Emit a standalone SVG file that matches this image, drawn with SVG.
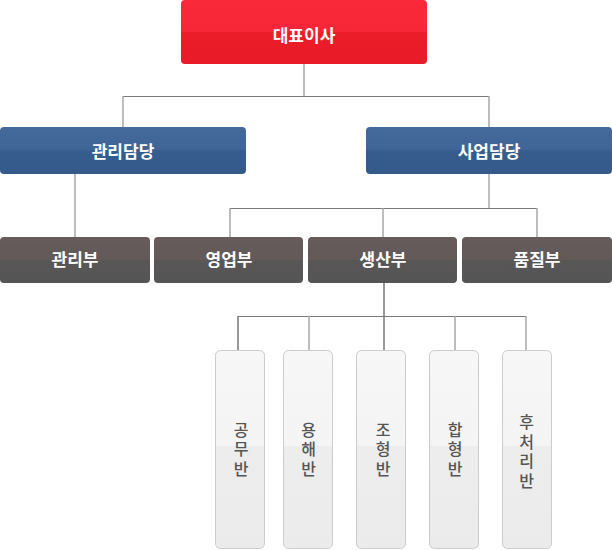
<svg xmlns="http://www.w3.org/2000/svg" width="612" height="550" viewBox="0 0 612 550">
<defs>
<linearGradient id="gRed" x1="0" y1="0" x2="0" y2="1">
<stop offset="0" stop-color="#fb2a3b"/><stop offset="0.5" stop-color="#f72636"/><stop offset="0.5" stop-color="#ea1d29"/><stop offset="1" stop-color="#e81c28"/>
</linearGradient>
<linearGradient id="gBlue" x1="0" y1="0" x2="0" y2="1">
<stop offset="0" stop-color="#44699a"/><stop offset="0.5" stop-color="#3f6597"/><stop offset="0.5" stop-color="#365d8c"/><stop offset="1" stop-color="#335a8a"/>
</linearGradient>
<linearGradient id="gGray" x1="0" y1="0" x2="0" y2="1">
<stop offset="0" stop-color="#675b5b"/><stop offset="0.5" stop-color="#635959"/><stop offset="0.5" stop-color="#595656"/><stop offset="1" stop-color="#555555"/>
</linearGradient>
<linearGradient id="gLight" x1="0" y1="0" x2="0" y2="1">
<stop offset="0" stop-color="#f7f7f7"/><stop offset="0.48" stop-color="#f4f4f4"/><stop offset="0.48" stop-color="#ededed"/><stop offset="1" stop-color="#ebebeb"/>
</linearGradient>
</defs>
<style>
.h{stroke:#7a7a7a;stroke-width:1;fill:none}
.v{stroke:#a8a8a8;stroke-width:1.5;fill:none}
.vd{stroke:#777;stroke-width:1.5;fill:none}
.t{font-family:"Noto Sans CJK KR","Noto Sans",sans-serif;font-weight:bold;font-size:17px;fill:#fff;text-anchor:middle}
.s{font-family:"Noto Sans CJK KR","Noto Sans",sans-serif;font-weight:500;font-size:16px;fill:#555;text-anchor:middle;writing-mode:vertical-rl;text-orientation:upright;letter-spacing:3.5px}
.lb{fill:url(#gLight);stroke:#cccccc;stroke-width:1}
</style>
<g id="connectors">
<path class="v" d="M304 64V96"/>
<path class="h" d="M123 96.5H489"/>
<path class="v" d="M123 96V127M489 96V127"/>
<path class="v" d="M75 174V237"/>
<path class="v" d="M489 174V208"/>
<path class="h" d="M230 208.5H537"/>
<path class="v" d="M230 208V237M383 208V237M537 208V237"/>
<path class="vd" d="M384 283V350"/>
<path class="h" d="M238 316.5H526"/>
<path class="vd" d="M238 316V350"/>
<path class="v" d="M309 316V350M455 316V350M526 316V350"/>
</g>
<g id="ceo"><rect x="181" y="0" width="246" height="64" rx="4" fill="url(#gRed)"/><text class="t" x="304" y="42">대표이사</text></g>
<g id="mgmt"><rect x="0" y="127" width="246" height="47" rx="4" fill="url(#gBlue)"/><text class="t" x="123" y="158">관리담당</text></g>
<g id="biz"><rect x="366" y="127" width="246" height="47" rx="4" fill="url(#gBlue)"/><text class="t" x="489" y="158">사업담당</text></g>
<g id="dept1"><rect x="0" y="237" width="150" height="46" rx="4" fill="url(#gGray)"/><text class="t" x="75" y="266">관리부</text></g>
<g id="dept2"><rect x="154" y="237" width="149" height="46" rx="4" fill="url(#gGray)"/><text class="t" x="229" y="266">영업부</text></g>
<g id="dept3"><rect x="308" y="237" width="149" height="46" rx="4" fill="url(#gGray)"/><text class="t" x="383" y="266">생산부</text></g>
<g id="dept4"><rect x="462" y="237" width="150" height="46" rx="4" fill="url(#gGray)"/><text class="t" x="537" y="266">품질부</text></g>
<g id="team1"><rect class="lb" x="215.5" y="350.5" width="49" height="198" rx="5"/><text class="s" x="241" y="451">공무반</text></g>
<g id="team2"><rect class="lb" x="283.5" y="350.5" width="49" height="198" rx="5"/><text class="s" x="308.5" y="451">용해반</text></g>
<g id="team3"><rect class="lb" x="356.5" y="350.5" width="49" height="198" rx="5"/><text class="s" x="383" y="451">조형반</text></g>
<g id="team4"><rect class="lb" x="429.5" y="350.5" width="49" height="198" rx="5"/><text class="s" x="455" y="451">합형반</text></g>
<g id="team5"><rect class="lb" x="502.5" y="350.5" width="49" height="198" rx="5"/><text class="s" x="526.5" y="453">후처리반</text></g>
</svg>
